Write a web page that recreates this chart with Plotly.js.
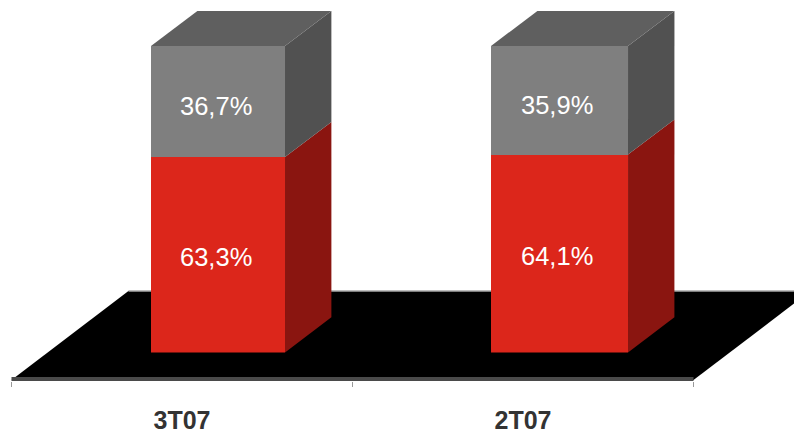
<!DOCTYPE html>
<html>
<head>
<meta charset="utf-8">
<style>html,body{margin:0;padding:0;background:#fff;overflow:hidden}#chart{width:794px;height:430px}</style>
<script src="https://cdn.plot.ly/plotly-3.0.1.min.js"></script>
</head>
<body>
<div id="chart"></div>
<script>
const categories = ['3T07', '2T07'];
const redValues = [63.3, 64.1];
const greyValues = [36.7, 35.9];

const plinth = -1.3;
const xs = [0, 1];
const barOffset = [-0.0909, -0.0938];
const barWidth = [0.393, 0.4018];
const depthX = 0.136, depthY = 11.6;
const RED = '#dc261b', RED_SIDE = '#8a1510', GREY = '#7f7f7f', GREY_SIDE = '#515151', GREY_TOP = '#5f5f5f';

function face(x, y, color) {
  return {type: 'scatter', mode: 'lines', x, y, fill: 'toself', fillcolor: color,
    line: {width: 0, color}, hoverinfo: 'skip', showlegend: false};
}
const traces = [
  {type: 'bar', name: 'red', x: xs, y: redValues, width: barWidth, offset: barOffset, marker: {color: RED, line: {width: 0}}, showlegend: false},
  {type: 'bar', name: 'grey', x: xs, y: greyValues, width: barWidth, offset: barOffset, marker: {color: GREY, line: {width: 0}}, showlegend: false}
];
const annotations = [];
xs.forEach((c, i) => {
  const l = c + barOffset[i], r = l + barWidth[i];
  const mid = redValues[i], top = redValues[i] + greyValues[i];
  traces.push(face([l, r, r, l, l], [plinth, plinth, 1, 1, plinth], RED));
  traces.push(face([r, r + depthX, r + depthX, r, r], [plinth, plinth + depthY, mid + depthY, mid, plinth], RED_SIDE));
  traces.push(face([r, r + depthX, r + depthX, r, r], [mid, mid + depthY, top + depthY, top, mid], GREY_SIDE));
  traces.push(face([l, l + depthX, r + depthX, r, l], [top, top + depthY, top + depthY, top, top], GREY_TOP));
  [[redValues[i], redValues[i] / 2], [greyValues[i], mid + greyValues[i] / 2]].forEach(([v, y]) => {
    annotations.push({x: (l + r) / 2, y, xref: 'x', yref: 'y', xshift: -2.5, yshift: -4.5, showarrow: false,
      text: v.toFixed(1).replace('.', ',') + '%',
      font: {family: 'Liberation Sans, Arial, sans-serif', size: 25.5, color: '#ffffff'}});
  });
});

const floorFront = -10.41, floorBack = 19.0, floorDepth = 0.343;
const shapes = [
  {type: 'path', layer: 'below', xref: 'x', yref: 'y',
   path: `M -0.5 ${floorFront} L ${-0.5 + floorDepth} ${floorBack} L ${1.5 + floorDepth} ${floorBack} L 1.5 ${floorFront} Z`,
   fillcolor: '#000000', line: {width: 0}},
  {type: 'line', layer: 'below', xref: 'x', yref: 'y', x0: -0.5 + floorDepth, x1: 1.5 + floorDepth, y0: floorBack, y1: floorBack,
   line: {color: '#a8a8a8', width: 1.5}},
  {type: 'line', layer: 'below', xref: 'x', yref: 'y', x0: -0.5, x1: 1.5, y0: -10.08, y1: -10.08,
   line: {color: '#4a4a4a', width: 4}}
];

const layout = {
  width: 794, height: 430,
  margin: {l: 0, r: 0, t: 0, b: 49, pad: 0},
  paper_bgcolor: '#ffffff', plot_bgcolor: '#ffffff',
  barmode: 'stack', showlegend: false,
  xaxis: {type: 'linear', range: [-0.5337, 1.7947], showgrid: false, zeroline: false, showline: false,
    tickmode: 'array', tickvals: xs, ticktext: categories, ticks: '', ticklabelstandoff: 22,
    tickfont: {family: 'Liberation Sans, Arial, sans-serif', size: 25, color: '#333333', weight: 'bold'},
    minor: {tickmode: 'array', tickvals: [-0.5, 0.5, 1.5], ticks: 'outside', ticklen: 5, tickwidth: 1.5, tickcolor: '#999999', showgrid: false}},
  yaxis: {range: [-10.74, 115.2], showgrid: false, zeroline: false, showline: false, showticklabels: false, ticks: ''},
  shapes, annotations
};
Plotly.newPlot('chart', traces, layout, {staticPlot: true, displayModeBar: false});
</script>
</body>
</html>
